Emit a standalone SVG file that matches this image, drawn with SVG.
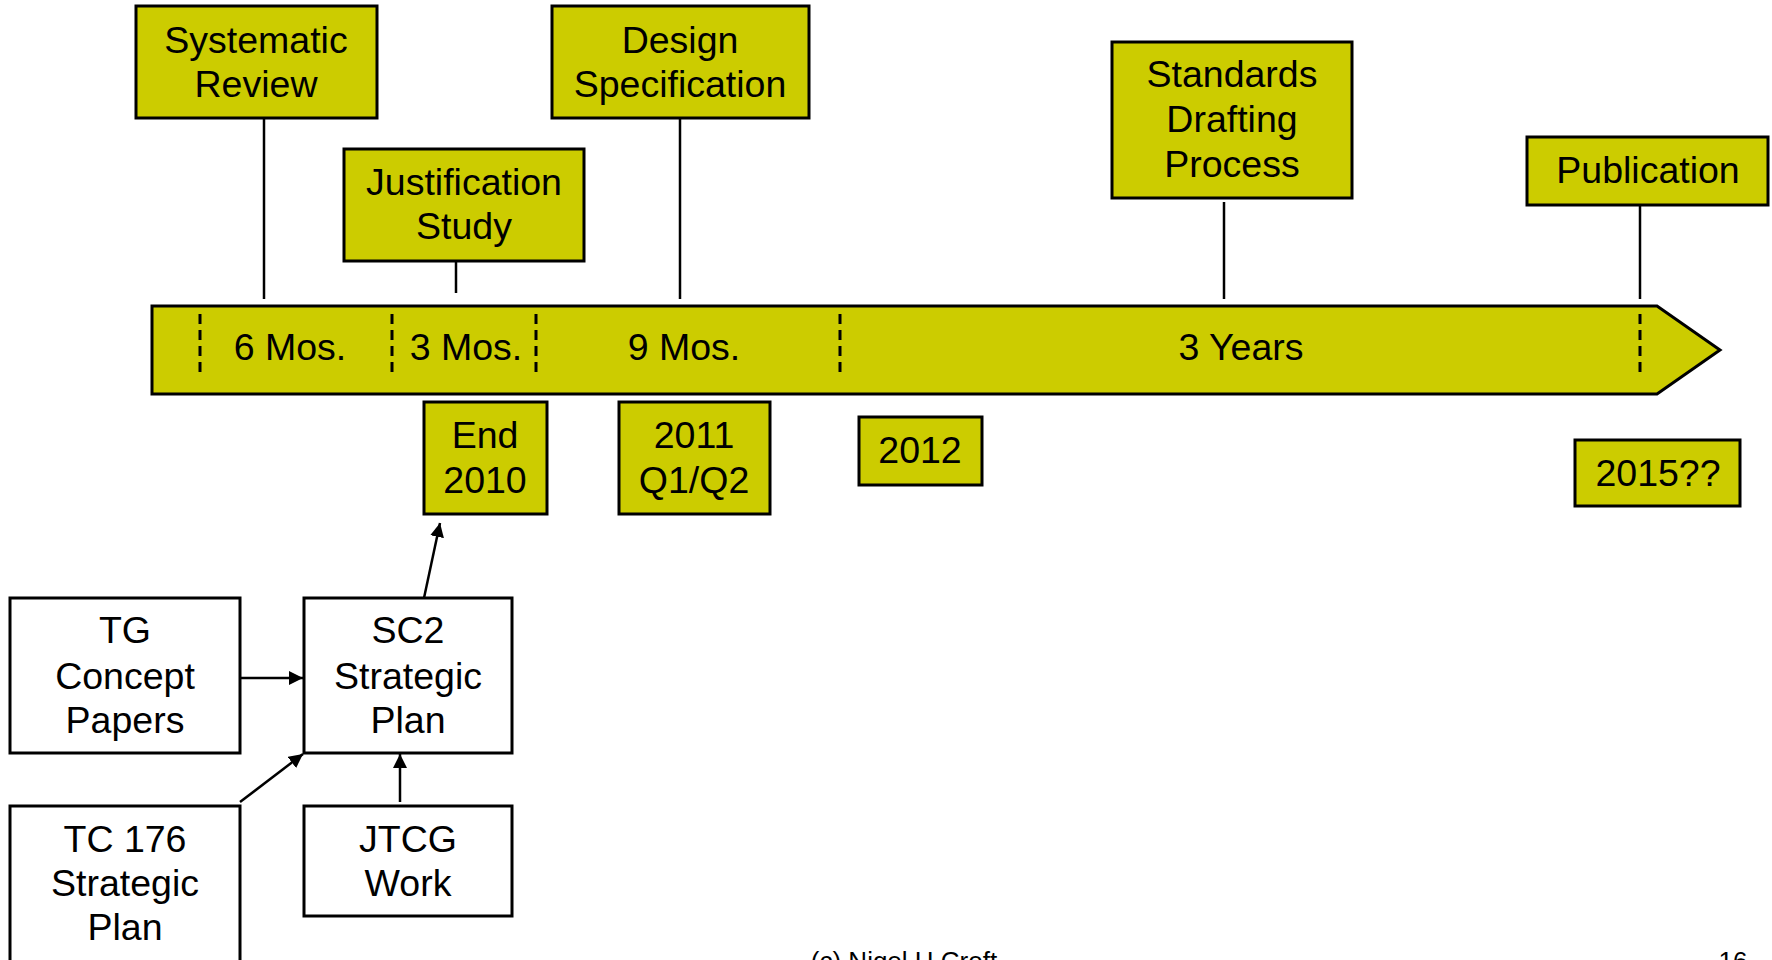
<svg xmlns="http://www.w3.org/2000/svg" width="1772" height="960" viewBox="0 0 1772 960">
<style>
.y{fill:#CCCC00;stroke:#000;stroke-width:3}
.w{fill:#fff;stroke:#000;stroke-width:3}
text{font-family:"Liberation Sans",Arial,sans-serif;font-size:37.5px;fill:#000;text-anchor:middle}
.ln{stroke:#000;stroke-width:2.5;fill:none}
.dash{stroke:#000;stroke-width:3;stroke-dasharray:10 6;fill:none}
.ft{font-size:26px}
</style>
<defs>
<marker id="ah" markerWidth="14" markerHeight="14" refX="14" refY="7" orient="auto" markerUnits="userSpaceOnUse">
<path d="M0,0 L14,7 L0,14 Z" fill="#000"/>
</marker>
</defs>
<rect width="1772" height="960" fill="#fff"/>
<g id="timeline">
<polygon class="y" points="152,306 1657,306 1720,350 1657,394 152,394"/>
<line class="dash" x1="200" y1="314" x2="200" y2="378"/>
<line class="dash" x1="392" y1="314" x2="392" y2="378"/>
<line class="dash" x1="536" y1="314" x2="536" y2="378"/>
<line class="dash" x1="840" y1="314" x2="840" y2="378"/>
<line class="dash" x1="1640" y1="314" x2="1640" y2="378"/>
<text x="290" y="360">6 Mos.</text>
<text x="466" y="360">3 Mos.</text>
<text x="684" y="360">9 Mos.</text>
<text x="1241" y="360">3 Years</text>
</g>
<g id="connectors">
<line class="ln" x1="264" y1="118" x2="264" y2="299"/>
<line class="ln" x1="456" y1="262" x2="456" y2="293"/>
<line class="ln" x1="680" y1="118" x2="680" y2="299"/>
<line class="ln" x1="1224" y1="202" x2="1224" y2="299"/>
<line class="ln" x1="1640" y1="202" x2="1640" y2="299"/>
<line class="ln" x1="424" y1="598" x2="440" y2="523" marker-end="url(#ah)"/>
<line class="ln" x1="240" y1="678" x2="303" y2="678" marker-end="url(#ah)"/>
<line class="ln" x1="240" y1="802" x2="303" y2="754" marker-end="url(#ah)"/>
<line class="ln" x1="400" y1="802" x2="400" y2="754" marker-end="url(#ah)"/>
</g>
<g id="systematic-review">
<rect class="y" x="136" y="6" width="241" height="112"/>
<text x="256" y="53">Systematic</text>
<text x="256" y="97">Review</text>
</g>
<g id="design-specification">
<rect class="y" x="552" y="6" width="257" height="112"/>
<text x="680" y="53">Design</text>
<text x="680" y="97">Specification</text>
</g>
<g id="justification-study">
<rect class="y" x="344" y="149" width="240" height="112"/>
<text x="464" y="195">Justification</text>
<text x="464" y="239">Study</text>
</g>
<g id="standards-drafting">
<rect class="y" x="1112" y="42" width="240" height="156"/>
<text x="1232" y="87">Standards</text>
<text x="1232" y="132">Drafting</text>
<text x="1232" y="177">Process</text>
</g>
<g id="publication">
<rect class="y" x="1527" y="137" width="241" height="68"/>
<text x="1648" y="183">Publication</text>
</g>
<g id="end-2010">
<rect class="y" x="424" y="402" width="123" height="112"/>
<text x="485" y="448">End</text>
<text x="485" y="493">2010</text>
</g>
<g id="q1q2-2011">
<rect class="y" x="619" y="402" width="151" height="112"/>
<text x="694" y="448">2011</text>
<text x="694" y="493">Q1/Q2</text>
</g>
<g id="y2012">
<rect class="y" x="859" y="417" width="123" height="68"/>
<text x="920" y="463">2012</text>
</g>
<g id="y2015">
<rect class="y" x="1575" y="440" width="165" height="66"/>
<text x="1658" y="486">2015??</text>
</g>
<g id="tg-concept">
<rect class="w" x="10" y="598" width="230" height="155"/>
<text x="125" y="643">TG</text>
<text x="125" y="689">Concept</text>
<text x="125" y="733">Papers</text>
</g>
<g id="sc2-plan">
<rect class="w" x="304" y="598" width="208" height="155"/>
<text x="408" y="643">SC2</text>
<text x="408" y="689">Strategic</text>
<text x="408" y="733">Plan</text>
</g>
<g id="tc176-plan">
<rect class="w" x="10" y="806" width="230" height="200"/>
<text x="125" y="852">TC 176</text>
<text x="125" y="896">Strategic</text>
<text x="125" y="940">Plan</text>
</g>
<g id="jtcg-work">
<rect class="w" x="304" y="806" width="208" height="110"/>
<text x="408" y="852">JTCG</text>
<text x="408" y="896">Work</text>
</g>
<g id="footer">
<text class="ft" x="904" y="970">(c) Nigel H Croft</text>
<text class="ft" x="1733" y="970">16</text>
</g>
</svg>
